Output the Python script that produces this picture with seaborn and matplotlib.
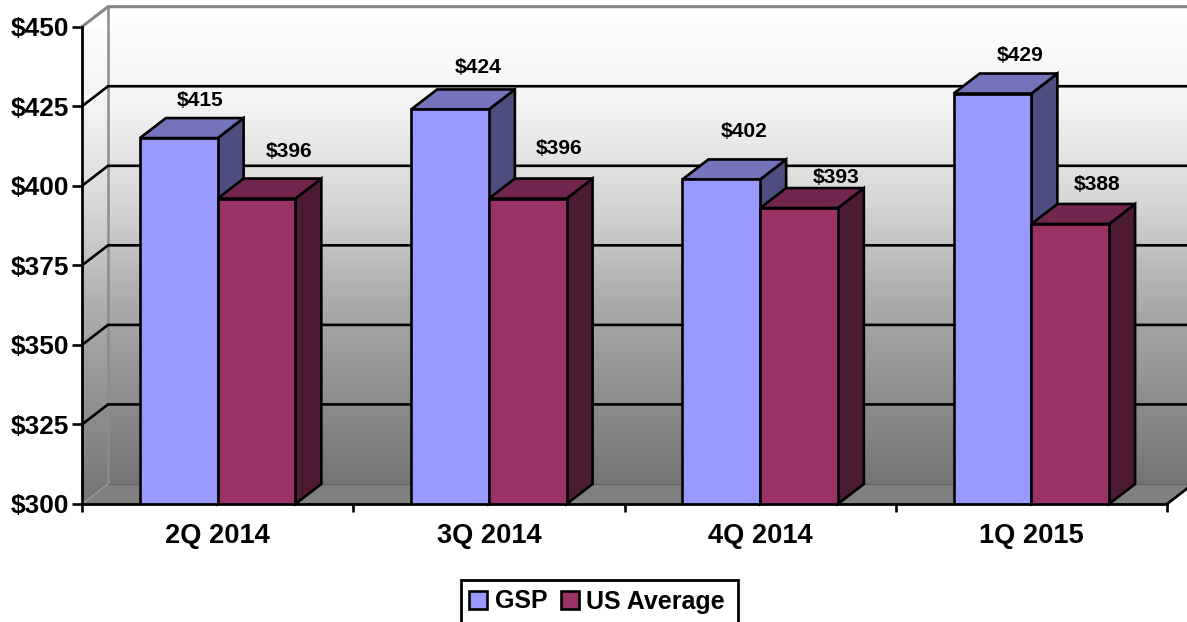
import numpy as np
import pandas as pd
import matplotlib
matplotlib.use("Agg")
import matplotlib.pyplot as plt
from matplotlib.colors import LinearSegmentedColormap
from matplotlib.patches import Polygon, Rectangle
import seaborn as sns

quarters = ["2Q 2014", "3Q 2014", "4Q 2014", "1Q 2015"]
gsp = [415, 424, 402, 429]
us_average = [396, 396, 393, 388]
series_names = ["GSP", "US Average"]
y_ticks = [300, 325, 350, 375, 400, 425, 450]

W, H = 1187, 622
AX_L, AX_R, AX_B, AX_T = 82, 1167, 504, 26.7
DEPTH_X_PX, DEPTH_Y_PX = 26, 20
LW = 1.9
FRONT = {"GSP": "#9999FF", "US Average": "#993366"}
TOP = {"GSP": "#7474BC", "US Average": "#72264D"}
SIDE = {"GSP": "#4D4D80", "US Average": "#4D1A33"}
# (dx, dy) in pixels of each value label from the front-top-centre of its bar
label_off = {"GSP": [(21, 38), (28, 42), (23, 48), (28, 38)],
             "US Average": [(33, 47), (31, 50), (37, 31), (27, 39)]}

sns.set_theme(style="white")
plt.rcParams["font.family"] = ["Liberation Sans", "DejaVu Sans"]
plt.rcParams["font.weight"] = "bold"

df = pd.DataFrame({
    "quarter": quarters * 2,
    "series": [series_names[0]] * 4 + [series_names[1]] * 4,
    "value": gsp + us_average,
})

fig = plt.figure(figsize=(W / 100, H / 100), dpi=100, facecolor="white")
ax = fig.add_axes([AX_L / W, 1 - AX_B / H, (AX_R - AX_L) / W, (AX_B - AX_T) / H])
ax.patch.set_visible(False)

sns.barplot(data=df, x="quarter", y="value", hue="series", hue_order=series_names,
            order=quarters, palette=FRONT, saturation=1, width=0.573, gap=0,
            edgecolor="black", linewidth=LW, ax=ax)

xmin, xmax, ymin, ymax = -0.5, 3.5, y_ticks[0], y_ticks[-1]
ax.set_xlim(xmin, xmax)
ax.set_ylim(ymin, ymax)
dx = DEPTH_X_PX * (xmax - xmin) / (AX_R - AX_L)
dy = DEPTH_Y_PX * (ymax - ymin) / (AX_B - AX_T)

# walls and floor
cmap = LinearSegmentedColormap.from_list("wall", [
    (0.0, "#FFFFFF"), (0.2, "#F4F4F4"), (0.4, "#D8D8D8"),
    (0.62, "#ABABAB"), (0.83, "#8C8C8C"), (1.0, "#747474")])
grad = np.linspace(0, 1, 256)[:, None]
ax.imshow(grad, cmap=cmap, aspect="auto", zorder=0, clip_on=False,
          extent=[xmin + dx, xmax + dx, ymin + dy, ymax + dy], origin="upper")
wall = ax.imshow(grad, cmap=cmap, aspect="auto", zorder=0, origin="upper",
                 extent=[xmin, xmin + dx, ymin, ymax + dy])
wall.set_clip_path(Polygon([(xmin, ymin), (xmin + dx, ymin + dy), (xmin + dx, ymax + dy), (xmin, ymax)],
                           transform=ax.transData))
ax.add_patch(Polygon([(xmin, ymin), (xmin + dx, ymin + dy), (xmax + dx, ymin + dy), (xmax, ymin)],
                     closed=True, fc="#808080", ec="none", zorder=0.5, clip_on=False))
ax.set_xlim(xmin, xmax)
ax.set_ylim(ymin, ymax)

# gridlines on the back and side walls
for t in y_ticks[1:-1]:
    ax.plot([xmin, xmin + dx, xmax + dx], [t, t + dy, t + dy], color="black", lw=LW,
            zorder=1, clip_on=False, solid_joinstyle="miter")
ax.plot([xmin, xmin + dx, xmax + dx], [ymax, ymax + dy, ymax + dy], color="#868686", lw=2.2,
        zorder=1, clip_on=False)
ax.plot([xmin + dx, xmin + dx], [ymin + dy, ymax + dy], color="#8C8C8C", lw=1.8, zorder=0.9, clip_on=False)
ax.plot([xmin + dx, xmax + dx], [ymin + dy, ymin + dy], color="#666666", lw=1, zorder=1, clip_on=False)
ax.plot([xmin, xmin + dx], [ymin, ymin + dy], color="#9A9A9A", lw=0.8, zorder=1, clip_on=False)
ax.plot([xmax, xmax + dx], [ymin, ymin + dy], color="black", lw=LW, zorder=1, clip_on=False)

# 3-D faces of each bar, derived from the bars that seaborn drew
for i, (name, cont) in enumerate(zip(series_names, ax.containers)):
    for j, bar in enumerate(cont):
        x0, w, h = bar.get_x(), bar.get_width(), bar.get_height()
        x1 = x0 + w
        top = bar.get_y() + h
        bar.set_zorder(6)
        ax.add_patch(Polygon([(x1, ymin), (x1 + dx, ymin + dy), (x1 + dx, top + dy), (x1, top)],
                             fc=SIDE[name], ec="black", lw=LW, zorder=2 + i, clip_on=False, joinstyle="miter"))
        ax.add_patch(Polygon([(x0, top), (x0 + dx, top + dy), (x1 + dx, top + dy), (x1, top)],
                             fc=TOP[name], ec="black", lw=LW, zorder=2 + i, clip_on=False, joinstyle="miter"))
        off = label_off[name][j]
        ax.annotate(f"${top:.0f}", xy=(x0 + w / 2, top), xytext=off, textcoords="offset pixels",
                    ha="center", va="center", fontsize=15.1, fontweight="bold", color="black",
                    zorder=8, annotation_clip=False)

# axes
sns.despine(ax=ax, top=True, right=True)
for s in ("left", "bottom"):
    ax.spines[s].set_color("black")
    ax.spines[s].set_linewidth(2)
    ax.spines[s].set_zorder(7)
ax.set_xlabel("")
ax.set_ylabel("")
ax.set_yticks(y_ticks)
ax.set_yticklabels([f"${t}" for t in y_ticks], fontsize=18.9, fontweight="bold", color="black")
ax.set_xticks(range(len(quarters)))
ax.set_xticklabels(quarters, fontsize=19.6, fontweight="bold", color="black")
ax.set_xticks(np.arange(xmin, xmax + 0.5), minor=True)
ax.tick_params(axis="y", which="major", left=True, length=7, width=1.9, color="black", pad=2.5)
ax.tick_params(axis="x", which="major", bottom=False, length=0, pad=14)
ax.tick_params(axis="x", which="minor", bottom=True, length=6, width=1.9, color="black")

# legend: entries from seaborn, frame sized to the reference box
sns.move_legend(ax, loc="center left", bbox_to_anchor=(469 / W, 1 - 601.5 / H),
                bbox_transform=fig.transFigure, ncol=2, title=None, frameon=False,
                fontsize=18, handlelength=0.72, handleheight=0.72, handletextpad=0.3,
                columnspacing=0.55, borderpad=0, borderaxespad=0)
leg = ax.get_legend()
leg.set_zorder(9)
for t in leg.get_texts():
    t.set_fontweight("bold")
    t.set_color("black")
fig.add_artist(Rectangle((461 / W, 1 - 623 / H), 277 / W, 43 / H, transform=fig.transFigure,
                         fc="white", ec="black", lw=2, zorder=-1))

fig.savefig("out.png", dpi=100, facecolor="white")
